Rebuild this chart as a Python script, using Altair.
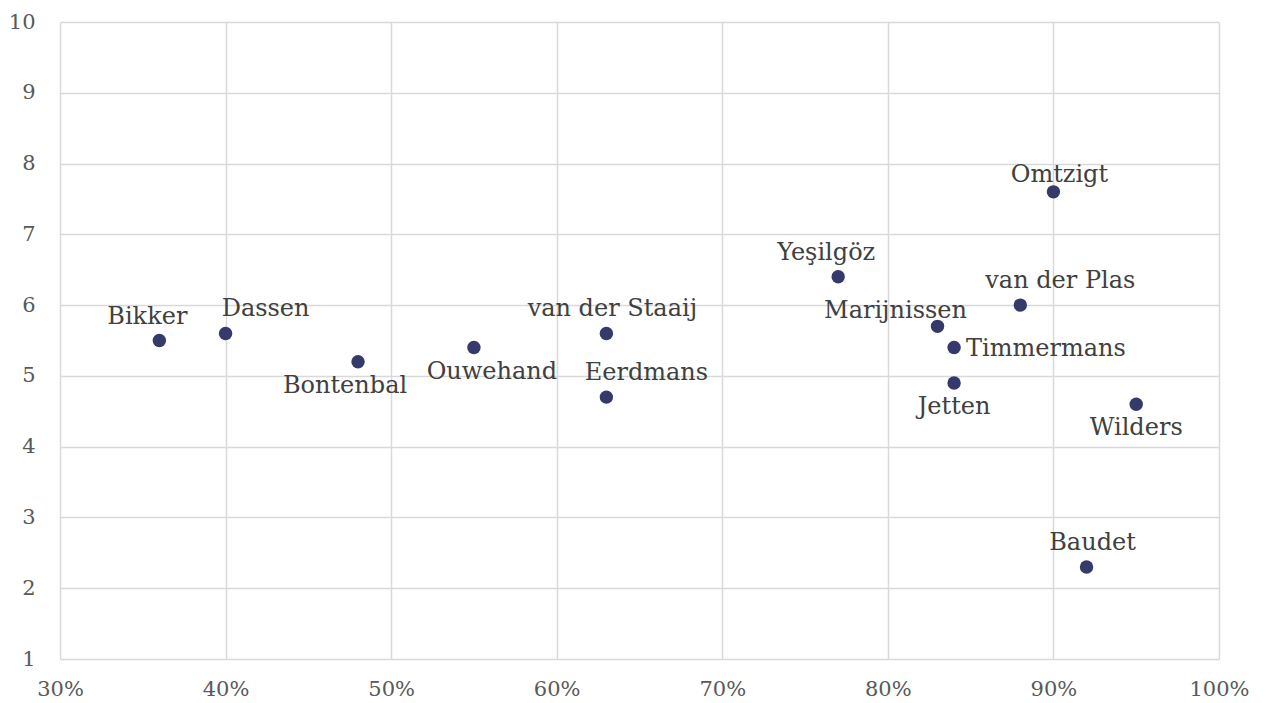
import altair as alt
import pandas as pd

names = ["Bikker", "Dassen", "Bontenbal", "Ouwehand", "van der Staaij", "Eerdmans",
         "Yeşilgöz", "Marijnissen", "Timmermans", "Jetten", "van der Plas",
         "Omtzigt", "Wilders", "Baudet"]
share = [0.36, 0.40, 0.48, 0.55, 0.63, 0.63, 0.77, 0.83, 0.84, 0.84, 0.88, 0.90, 0.95, 0.92]
score = [5.5, 5.6, 5.2, 5.4, 5.6, 4.7, 6.4, 5.7, 5.4, 4.9, 6.0, 7.6, 4.6, 2.3]
placement = ["above-left", "above-right", "below-left", "below-right", "above", "above-right",
             "above-left", "above-far-left", "right", "below", "above-right",
             "above-tight", "below", "above"]

x_ticks = [0.3, 0.4, 0.5, 0.6, 0.7, 0.8, 0.9, 1.0]
y_ticks = [1, 2, 3, 4, 5, 6, 7, 8, 9, 10]

df = pd.DataFrame({"name": names, "share": share, "score": score, "place": placement})

FONT = "DejaVu Serif"

base = alt.Chart(df).encode(
    x=alt.X("share:Q",
            scale=alt.Scale(domain=[0.3, 1.0], nice=False, zero=False),
            axis=alt.Axis(values=x_ticks, format=".0%", title=None, grid=True,
                          gridColor="#d9d9d9", gridWidth=1.5, domain=False, ticks=False,
                          labelFont=FONT, labelFontSize=21, labelColor="#595959",
                          labelPadding=19, labelFlush=False)),
    y=alt.Y("score:Q",
            scale=alt.Scale(domain=[1, 10], nice=False, zero=False),
            axis=alt.Axis(values=y_ticks, title=None, grid=True,
                          gridColor="#d9d9d9", gridWidth=1.5, domain=False, ticks=False,
                          labelFont=FONT, labelFontSize=21, labelColor="#595959",
                          labelPadding=25, labelFlush=False)),
)

points = base.mark_circle(size=180, color="#353a6a", opacity=1)

label_style = dict(font=FONT, fontSize=24, color="#404040", baseline="alphabetic")
offsets = {
    "above": dict(dx=6, dy=-17, align="center"),
    "above-left": dict(dx=-12, dy=-17, align="center"),
    "above-tight": dict(dx=6, dy=-10, align="center"),
    "above-far-left": dict(dx=-42, dy=-8, align="center"),
    "above-right": dict(dx=40, dy=-17, align="center"),
    "below": dict(dx=0, dy=31, align="center"),
    "below-left": dict(dx=-13, dy=31, align="center"),
    "below-right": dict(dx=18, dy=31, align="center"),
    "right": dict(dx=12, dy=8, align="left"),
}

layers = [points]
for key, off in offsets.items():
    layers.append(
        base.mark_text(**label_style, **off)
        .encode(text="name:N")
        .transform_filter(alt.datum.place == key)
    )

chart = alt.layer(*layers).properties(
    width=1159, height=637,
    autosize=alt.AutoSizeParams(type="none"),
    padding={"left": 52, "top": 14, "right": 40, "bottom": 40},
).configure_view(stroke=None)

chart.save("out.html", embed_options={"renderer": "svg", "actions": False})
